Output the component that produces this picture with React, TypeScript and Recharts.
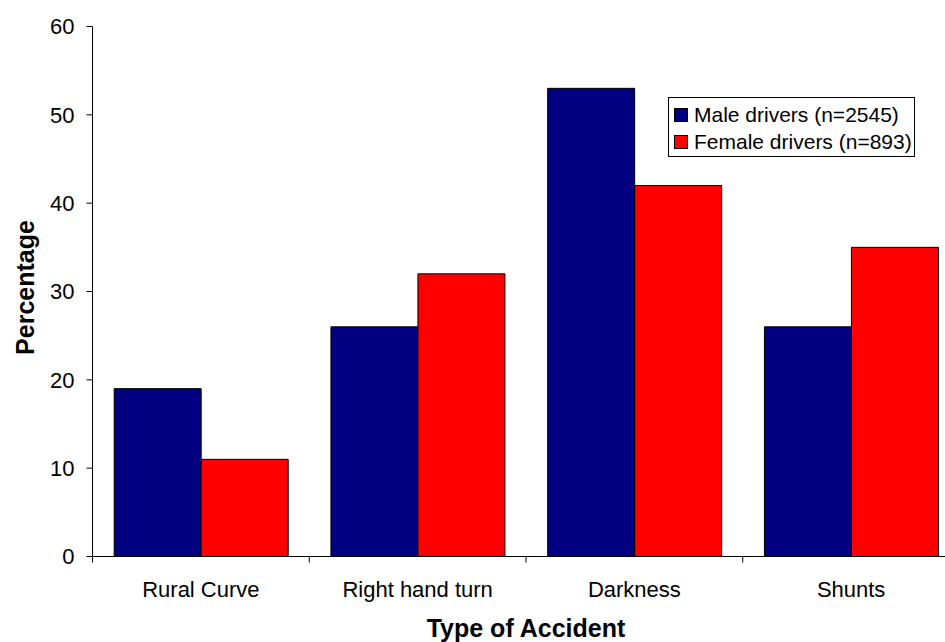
import {
  Bar,
  BarChart,
  Label,
  Legend,
  XAxis,
  YAxis,
} from 'recharts';

const categories = ['Rural Curve', 'Right hand turn', 'Darkness', 'Shunts'];
const maleDrivers = [19, 26, 53, 26];
const femaleDrivers = [11, 32, 42, 35];
const yTicks = [0, 10, 20, 30, 40, 50, 60];

const MALE_NAME = 'Male drivers (n=2545)';
const FEMALE_NAME = 'Female drivers (n=893)';
const MALE_COLOR = '#000080';
const FEMALE_COLOR = '#FF0000';

const FONT = '"Liberation Sans", Arial, sans-serif';

// plot box (the chart is wider than the page, the last category runs past the right edge)
const CHART_W = 1000;
const CHART_H = 642;
const MARGIN = { top: 26.5, right: 40.5, bottom: 0.5, left: 0.5 };
const Y_AXIS_W = 92;
const X_AXIS_H = 85;
const PLOT_W = CHART_W - MARGIN.left - MARGIN.right - Y_AXIS_W;
const BAND = PLOT_W / categories.length;
const TICK_MARGIN = 25;

const data = categories.map((name, i) => ({
  name,
  male: maleDrivers[i],
  female: femaleDrivers[i],
}));

// category label centred in its band, with a short tick mark on the band's left edge
function CategoryTick(props: any) {
  const { x, y, payload, index } = props;
  const axisY = y - TICK_MARGIN;
  const left = x - BAND / 2;
  return (
    <g>
      <line x1={left} y1={axisY} x2={left} y2={axisY + 6} stroke="#000" />
      {index === categories.length - 1 && (
        <line x1={x + BAND / 2} y1={axisY} x2={x + BAND / 2} y2={axisY + 6} stroke="#000" />
      )}
      <text
        x={x}
        y={y}
        dy="0.71em"
        textAnchor="middle"
        fontFamily={FONT}
        fontSize={22}
        fill="#000"
      >
        {payload.value}
      </text>
    </g>
  );
}

function LegendBox() {
  const rows = [
    { label: MALE_NAME, color: MALE_COLOR },
    { label: FEMALE_NAME, color: FEMALE_COLOR },
  ];
  return (
    <div
      style={{
        boxSizing: 'border-box',
        width: 247,
        height: 60,
        border: '1px solid #000',
        background: '#fff',
        padding: '3px 0 0 5px',
        fontFamily: FONT,
        fontSize: 21,
        color: '#000',
      }}
    >
      {rows.map((r) => (
        <div
          key={r.label}
          style={{ display: 'flex', alignItems: 'center', height: 27, whiteSpace: 'nowrap' }}
        >
          <span
            style={{
              boxSizing: 'border-box',
              width: 14,
              height: 14,
              background: r.color,
              border: '1px solid #000',
              marginRight: 6,
            }}
          />
          {r.label}
        </div>
      ))}
    </div>
  );
}

export default function App() {
  return (
    <div
      style={{
        position: 'fixed',
        left: 0,
        top: 0,
        width: 945,
        height: 642,
        overflow: 'hidden',
        background: '#fff',
      }}
    >
      <BarChart
        width={CHART_W}
        height={CHART_H}
        data={data}
        margin={MARGIN}
        barCategoryGap="10%"
        barGap={0}
      >
        <XAxis
          dataKey="name"
          height={X_AXIS_H}
          interval={0}
          tickLine={false}
          tickSize={0}
          tickMargin={TICK_MARGIN}
          axisLine={{ stroke: '#000' }}
          tick={<CategoryTick />}
        >
          <Label
            content={({ viewBox }: any) => (
              <text
                x={viewBox.x + viewBox.width / 2}
                y={viewBox.y + 80.5}
                textAnchor="middle"
                fontFamily={FONT}
                fontWeight="bold"
                fontSize={25}
                fill="#000"
              >
                Type of Accident
              </text>
            )}
          />
        </XAxis>
        <YAxis
          width={Y_AXIS_W}
          domain={[0, 60]}
          ticks={yTicks}
          interval={0}
          tickSize={6}
          tickMargin={12}
          axisLine={{ stroke: '#000' }}
          tickLine={{ stroke: '#000' }}
          tick={{ fill: '#000', fontSize: 22, fontFamily: FONT }}
        >
          <Label
            content={({ viewBox }: any) => {
              const cx = 25;
              const cy = viewBox.y + viewBox.height / 2 - 4;
              return (
                <text
                  x={cx}
                  y={cy}
                  transform={`rotate(-90, ${cx}, ${cy})`}
                  textAnchor="middle"
                  dominantBaseline="central"
                  fontFamily={FONT}
                  fontWeight="bold"
                  fontSize={25}
                  fill="#000"
                >
                  Percentage
                </text>
              );
            }}
          />
        </YAxis>
        <Legend
          layout="vertical"
          align="center"
          verticalAlign="middle"
          wrapperStyle={{ position: 'absolute', left: 668, top: 97, width: 247 }}
          content={() => <LegendBox />}
        />
        <Bar
          dataKey="male"
          name={MALE_NAME}
          fill={MALE_COLOR}
          stroke="#000"
          strokeWidth={1}
          isAnimationActive={false}
        />
        <Bar
          dataKey="female"
          name={FEMALE_NAME}
          fill={FEMALE_COLOR}
          stroke="#000"
          strokeWidth={1}
          isAnimationActive={false}
        />
      </BarChart>
    </div>
  );
}
